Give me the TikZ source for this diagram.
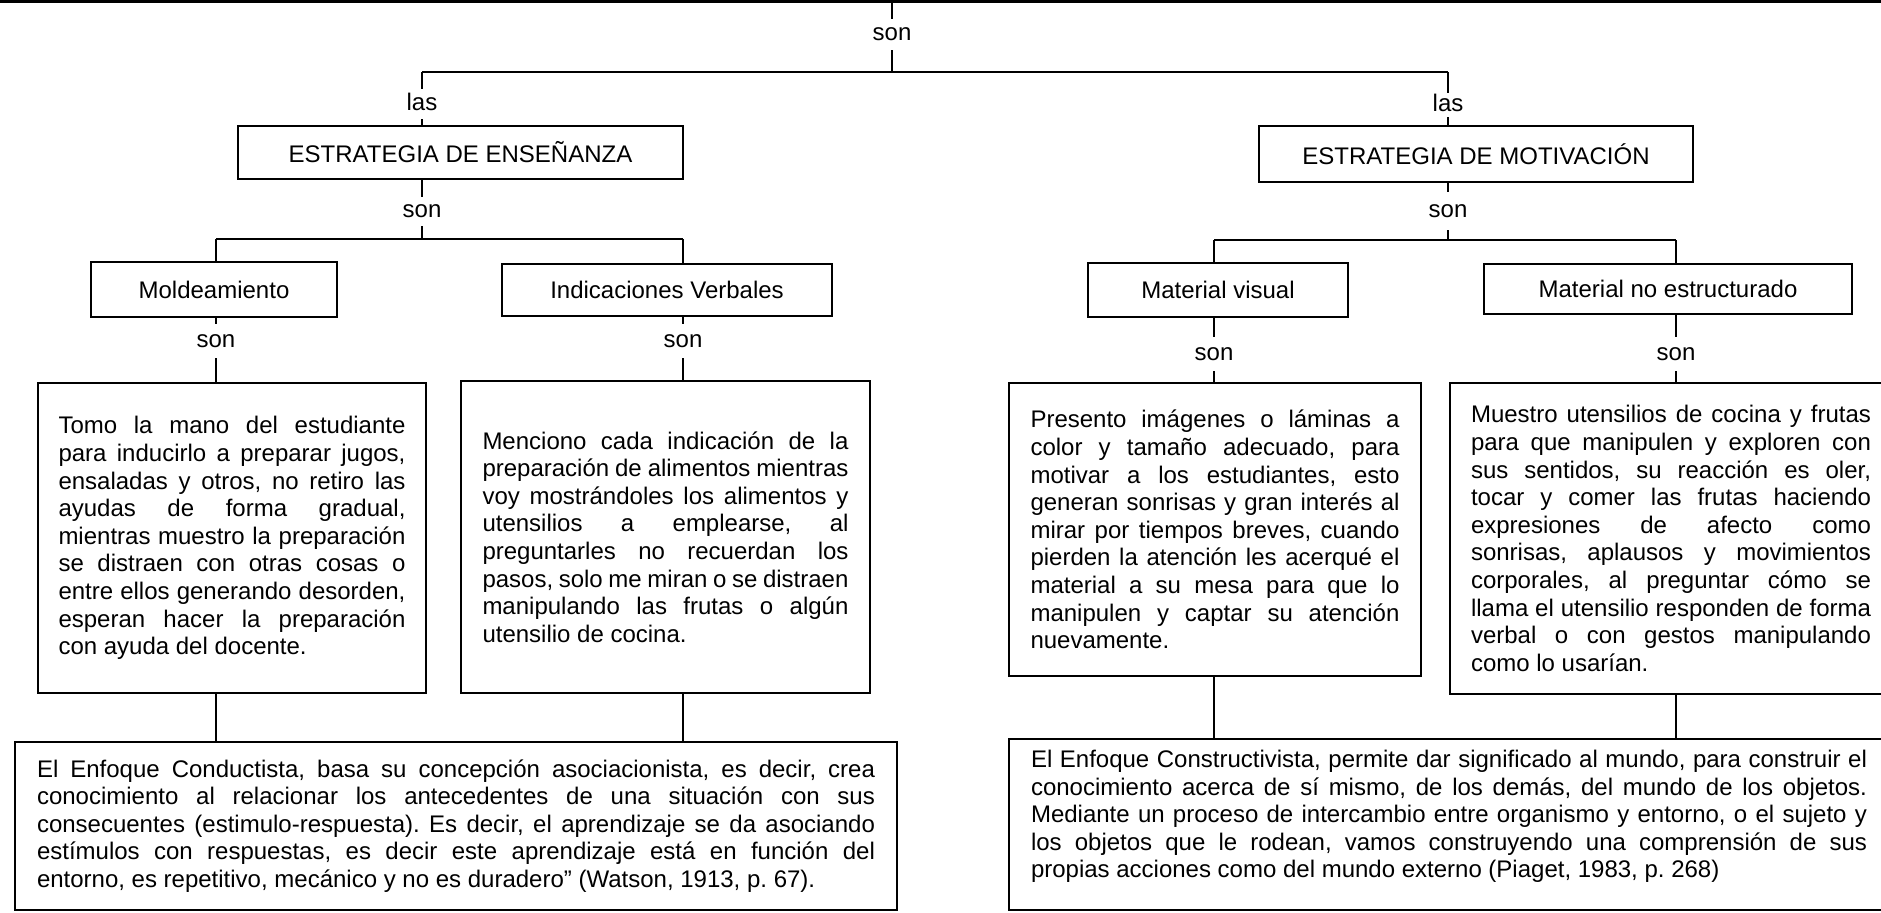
\documentclass[tikz,border=0pt]{standalone}
\usepackage{fontspec}
\setmainfont{Liberation Sans}
\setlength{\parindent}{0pt}
\frenchspacing
\newlength\jw
% a justified line of a given width, and a last (unjustified) line
\newcommand\jl[1]{\makebox[\jw][s]{\spaceskip=0pt\xspaceskip=0pt #1}}
\newcommand\jlast[1]{{\spaceskip=0pt\xspaceskip=0pt #1}}
\begin{document}
\begin{tikzpicture}[x=0.5pt,y=-0.5pt,
  every node/.style={font=\fontsize{12pt}{13.8pt}\selectfont},
  box/.style={draw, line width=1.3pt, inner sep=0pt, align=center},
  tbox/.style={draw, line width=1.3pt, inner xsep=0pt, inner ysep=0pt, align=left},
  tw/.style={text width=#1, execute at begin node={\frenchspacing\setlength{\jw}{#1}}},
  conn/.style={line width=1.3pt},
  lbl/.style={fill=white, inner xsep=1.5pt, inner ysep=0pt, text height=8.5pt, text depth=2.5pt}]
\useasboundingbox (0,0) rectangle (1881,912);

% root box (only its bottom edge is visible)
\node[draw, line width=1.3pt, minimum width=1000pt, minimum height=60pt, inner sep=0pt] (root) at (940.5,-58.7) {};

% level 1
\node[box, minimum width=222.5pt, minimum height=26.5pt] (ens) at (460.5,152.5) {ESTRATEGIA DE ENSEÑANZA};
\node[box, minimum width=217pt, minimum height=28pt] (mot) at (1476,154) {ESTRATEGIA DE MOTIVACIÓN};

% level 2
\node[box, minimum width=123pt, minimum height=27.5pt] (mold) at (214,289.5) {Moldeamiento};
\node[box, minimum width=165pt, minimum height=26pt] (ind) at (667,290) {Indicaciones Verbales};
\node[box, minimum width=130pt, minimum height=27pt] (vis) at (1218,290) {Material visual};
\node[box, minimum width=184pt, minimum height=25pt] (noe) at (1668,289) {Material no estructurado};

% level 3
\node[tbox, minimum width=194pt, minimum height=155pt, tw=173.5pt] (tomo) at (232,538) {%
\jl{Tomo la mano del estudiante}\\
\jl{para inducirlo a preparar jugos,}\\
\jl{ensaladas y otros, no retiro las}\\
\jl{ayudas de forma gradual,}\\
\jl{mientras muestro la preparación}\\
\jl{se distraen con otras cosas o}\\
\jl{entre ellos generando desorden,}\\
\jl{esperan hacer la preparación}\\
\jlast{con ayuda del docente.}};

\node[tbox, minimum width=204.5pt, minimum height=156pt, tw=183pt] (menc) at (665.5,537) {%
\jl{Menciono cada indicación de la}\\
\jl{preparación de alimentos mientras}\\
\jl{voy mostrándoles los alimentos y}\\
\jl{utensilios a emplearse, al}\\
\jl{preguntarles no recuerdan los}\\
\jl{pasos, solo me miran o se distraen}\\
\jl{manipulando las frutas o algún}\\
\jlast{utensilio de cocina.}};

\node[tbox, minimum width=206pt, minimum height=146.5pt, tw=184.5pt] (pres) at (1215,529.5) {%
\jl{Presento imágenes o láminas a}\\
\jl{color y tamaño adecuado, para}\\
\jl{motivar a los estudiantes, esto}\\
\jl{generan sonrisas y gran interés al}\\
\jl{mirar por tiempos breves, cuando}\\
\jl{pierden la atención les acerqué el}\\
\jl{material a su mesa para que lo}\\
\jl{manipulen y captar su atención}\\
\jlast{nuevamente.}};

\node[tbox, minimum width=221pt, minimum height=155.5pt, tw=200pt] (mues) at (1671,538.5) {%
\jl{Muestro utensilios de cocina y frutas}\\
\jl{para que manipulen y exploren con}\\
\jl{sus sentidos, su reacción es oler,}\\
\jl{tocar y comer las frutas haciendo}\\
\jl{expresiones de afecto como}\\
\jl{sonrisas, aplausos y movimientos}\\
\jl{corporales, al preguntar cómo se}\\
\jl{llama el utensilio responden de forma}\\
\jl{verbal o con gestos manipulando}\\
\jlast{como lo usarían.}};

% level 4
\node[tbox, minimum width=441pt, minimum height=84pt, tw=419pt] (cond) at (456,826) {%
\jl{El Enfoque Conductista, basa su concepción asociacionista, es decir, crea}\\
\jl{conocimiento al relacionar los antecedentes de una situación con sus}\\
\jl{consecuentes (estimulo-respuesta). Es decir, el aprendizaje se da asociando}\\
\jl{estímulos con respuestas, es decir este aprendizaje está en función del}\\
\jlast{entorno, es repetitivo, mecánico y no es duradero” (Watson, 1913, p. 67).}};

\node[tbox, minimum width=440pt, minimum height=85.5pt, tw=418pt] (cons) at (1449,824.5) {%
\jl{El Enfoque Constructivista, permite dar significado al mundo, para construir el}\\
\jl{conocimiento acerca de sí mismo, de los demás, del mundo de los objetos.}\\
\jl{Mediante un proceso de intercambio entre organismo y entorno, o el sujeto y}\\
\jl{los objetos que le rodean, vamos construyendo una comprensión de sus}\\
\jlast{propias acciones como del mundo externo (Piaget, 1983, p. 268)}\par\kern8pt};

% junction coordinates
\coordinate (top) at (892,72);
\coordinate (bl) at (422,72);
\coordinate (br) at (1448,72);
\coordinate (ej) at (422,239);
\coordinate (ejl) at (216,239);
\coordinate (ejr) at (683,239);
\coordinate (mj) at (1448,240);
\coordinate (mjl) at (1214,240);
\coordinate (mjr) at (1676,240);

% connectors
\draw[conn] (root.south -| top) -- (top);
\draw[conn] (bl) -- (br);
\draw[conn] (bl) -- (bl |- ens.north);
\draw[conn] (br) -- (br |- mot.north);

\draw[conn] (ens.south -| ej) -- (ej);
\draw[conn] (ejl) -- (ejr);
\draw[conn] (ejl) -- (ejl |- mold.north);
\draw[conn] (ejr) -- (ejr |- ind.north);
\draw[conn] (mold.south -| ejl) -- (ejl |- tomo.north);
\draw[conn] (ind.south -| ejr) -- (ejr |- menc.north);
\draw[conn] (tomo.south -| ejl) -- (ejl |- cond.north);
\draw[conn] (menc.south -| ejr) -- (ejr |- cond.north);

\draw[conn] (mot.south -| mj) -- (mj);
\draw[conn] (mjl) -- (mjr);
\draw[conn] (mjl) -- (mjl |- vis.north);
\draw[conn] (mjr) -- (mjr |- noe.north);
\draw[conn] (vis.south -| mjl) -- (mjl |- pres.north);
\draw[conn] (noe.south -| mjr) -- (mjr |- mues.north);
\draw[conn] (pres.south -| mjl) -- (mjl |- cons.north);
\draw[conn] (mues.south -| mjr) -- (mjr |- cons.north);

% connector labels
\node[lbl, minimum height=15.5pt] (s0) at (892,34) {son};
\node[lbl, minimum height=15pt] (a1) at (422,104) {las};
\node[lbl, minimum height=12pt] (a2) at (1448,105) {las};
\node[lbl, minimum height=14.5pt] (s1) at (422,211) {son};
\node[lbl, minimum height=19pt] (s2) at (1448,211) {son};
\node[lbl, minimum height=17pt] (s3) at (216,341) {son};
\node[lbl, minimum height=17pt] (s4) at (683,341) {son};
\node[lbl, minimum height=17pt] (s5) at (1214,354) {son};
\node[lbl, minimum height=17pt] (s6) at (1676,354) {son};
\end{tikzpicture}
\end{document}
